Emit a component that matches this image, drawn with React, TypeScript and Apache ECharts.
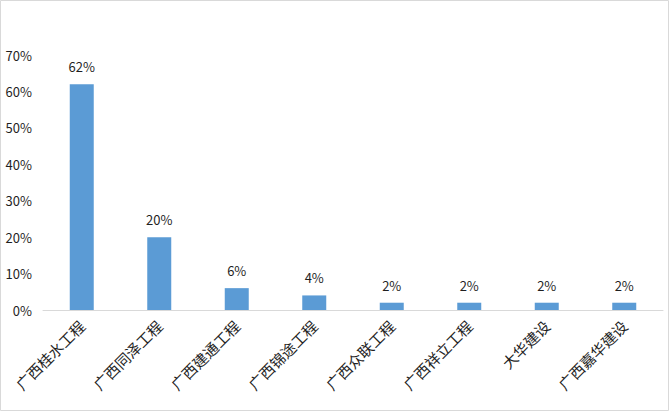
import React, { useEffect, useRef } from "react";
import * as echarts from "echarts";

const categories = ["广西桂水工程", "广西同泽工程", "广西建通工程", "广西锦途工程", "广西众联工程", "广西祥立工程", "大华建设", "广西嘉华建设"];
const values = [62, 20, 6, 4, 2, 2, 2, 2];
const yTicks = { min: 0, max: 70, interval: 10 };

export default function App() {
  const ref = useRef<HTMLDivElement>(null);
  useEffect(() => {
    document.body.style.margin = "0";
    const chart = echarts.init(ref.current!, null, { renderer: "svg" });
    const font = "'Noto Sans CJK SC', 'Noto Sans', sans-serif";
    chart.setOption({
      animation: false,
      backgroundColor: "#ffffff",
      graphic: [
        {
          type: "rect",
          shape: { x: 0.5, y: 0.5, width: 668, height: 410 },
          style: { fill: "none", stroke: "#d9d9d9", lineWidth: 1 },
          silent: true,
        },
      ],
      grid: { left: 43, right: 7, top: 55, bottom: 102, containLabel: false },
      xAxis: {
        type: "category",
        data: categories,
        axisLine: { show: true, lineStyle: { color: "#d9d9d9", width: 1 } },
        axisTick: { show: false },
        axisLabel: { rotate: 45, fontSize: 15, color: "#1f1f1f", fontFamily: font, margin: 13, interval: 0 },
      },
      yAxis: {
        type: "value",
        min: yTicks.min,
        max: yTicks.max,
        interval: yTicks.interval,
        axisLine: { show: false },
        axisTick: { show: false },
        splitLine: { show: false },
        axisLabel: { formatter: "{value}%", fontSize: 13, color: "#1f1f1f", fontFamily: font, margin: 11 },
      },
      series: [
        {
          type: "bar",
          data: values,
          barWidth: 24,
          itemStyle: { color: "#5b9bd5" },
          label: {
            show: true,
            position: "top",
            formatter: "{c}%",
            fontSize: 13,
            color: "#1f1f1f",
            fontFamily: font,
            distance: 11,
          },
        },
      ],
    });
    return () => chart.dispose();
  }, []);
  return <div ref={ref} style={{ width: 670, height: 412 }} />;
}
